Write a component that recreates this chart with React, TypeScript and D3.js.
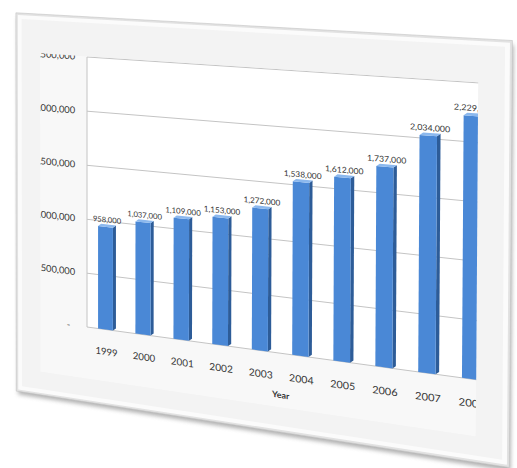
import React from "react";
import * as d3 from "d3";

const years = ["1999", "2000", "2001", "2002", "2003", "2004", "2005", "2006", "2007", "2008"];
const values = [958000, 1037000, 1109000, 1153000, 1272000, 1538000, 1612000, 1737000, 2034000, 2229000];
const tickValues = [0, 500000, 1000000, 1500000, 2000000, 2500000];
const tickLabels = ["-", "500,000", "1,000,000", "1,500,000", "2,000,000", "2,500,000"];
const axisTitle = "Year";

// flat (un-warped) plot size
const PW = 360;
const PH = 270;
// where the flat plot corners land on the page (perspective view)
const SRC: [number, number][] = [[0, 0], [PW, 0], [PW, PH], [0, PH]];
const DST: [number, number][] = [[87, 57], [480, 83], [478, 380], [87, 327]];

function homography(src: [number, number][], dst: [number, number][]) {
  const A: number[][] = [];
  const b: number[] = [];
  for (let i = 0; i < 4; i++) {
    const [x, y] = src[i];
    const [X, Y] = dst[i];
    A.push([x, y, 1, 0, 0, 0, -X * x, -X * y]);
    b.push(X);
    A.push([0, 0, 0, x, y, 1, -Y * x, -Y * y]);
    b.push(Y);
  }
  const n = 8;
  for (let c = 0; c < n; c++) {
    let p = c;
    for (let r = c + 1; r < n; r++) if (Math.abs(A[r][c]) > Math.abs(A[p][c])) p = r;
    [A[c], A[p]] = [A[p], A[c]];
    [b[c], b[p]] = [b[p], b[c]];
    for (let r = 0; r < n; r++) {
      if (r === c) continue;
      const f = A[r][c] / A[c][c];
      for (let k = c; k < n; k++) A[r][k] -= f * A[c][k];
      b[r] -= f * b[c];
    }
  }
  return b.map((v, i) => v / A[i][i]);
}

const H = homography(SRC, DST);
const P = (x: number, y: number): [number, number] => {
  const w = H[6] * x + H[7] * y + 1;
  return [(H[0] * x + H[1] * y + H[2]) / w, (H[3] * x + H[4] * y + H[5]) / w];
};
const poly = (pts: [number, number][]) => pts.map(([x, y]) => P(x, y).map((v) => v.toFixed(2)).join(",")).join(" ");
const rectPts = (x0: number, y0: number, x1: number, y1: number): [number, number][] => [
  [x0, y0], [x1, y0], [x1, y1], [x0, y1],
];
const tf = (x: number, y: number) => {
  const e = 0.5;
  const p = P(x, y);
  const px = P(x + e, y);
  const py = P(x, y + e);
  return `matrix(${(px[0] - p[0]) / e},${(px[1] - p[1]) / e},${(py[0] - p[0]) / e},${(py[1] - p[1]) / e},${p[0]},${p[1]})`;
};

const yScale = d3.scaleLinear().domain([0, 2500000]).range([PH, 0]);
const xScale = d3.scaleBand<string>().domain(years).range([0, 372.6]).paddingInner(0.6).paddingOuter(0.3);
const fmt = d3.format(",");

// card + chart-image extents (flat coords)
const CARD = { x0: -73, y0: -40, x1: 386.5, y1: 345.5 };
const CLIP = { x0: -48, y0: -0.6, x1: 358.5, y1: 322 };
const DEPTH_X = 3;
const DEPTH_Y = 2.5;

export default function App() {
  const textColor = "#363636";
  const font = "Lato, 'Open Sans', sans-serif";
  return (
    <svg
      width={517}
      height={468}
      style={{ position: "absolute", left: 0, top: 0, background: "#ffffff" }}
    >
      <defs>
        <filter id="shadowBlur" x="-10%" y="-10%" width="120%" height="120%">
          <feGaussianBlur stdDeviation="2.2" />
        </filter>
        <clipPath id="chartClip">
          <polygon points={poly(rectPts(CLIP.x0, CLIP.y0, CLIP.x1, CLIP.y1))} />
        </clipPath>
      </defs>
      {/* card shadow */}
      <polygon
        points={poly(rectPts(CARD.x0 + 2, CARD.y0 + 4, CARD.x1 + 1, CARD.y1 + 3))}
        fill="#7a7a7a"
        opacity={0.6}
        filter="url(#shadowBlur)"
      />
      {/* card with bevel */}
      <polygon points={poly(rectPts(CARD.x0, CARD.y0, CARD.x1, CARD.y1))} fill="#e2e2e2" stroke="#c4c4c4" strokeWidth={0.6} />
      <polygon points={poly(rectPts(CARD.x0 + 2, CARD.y0 + 2, CARD.x1 - 2, CARD.y1 - 2))} fill="#fbfbfb" />
      <polygon points={poly(rectPts(CARD.x0 + 6, CARD.y0 + 6, CARD.x1 - 6, CARD.y1 - 6))} fill="#f3f3f3" />

      <g clipPath="url(#chartClip)">
        <polygon points={poly(rectPts(CLIP.x0, CLIP.y0, CLIP.x1, CLIP.y1))} fill="#f8f8f8" />
        <polygon points={poly(rectPts(0, 0, PW, PH))} fill="#ffffff" />
        {/* gridlines */}
        {tickValues.map((t) => {
          const a = P(0, yScale(t));
          const b = P(PW, yScale(t));
          return <line key={"g" + t} x1={a[0]} y1={a[1]} x2={b[0]} y2={b[1]} stroke="#c4c4c4" strokeWidth={1} />;
        })}
        {(() => {
          const a = P(0, 0);
          const b = P(0, PH);
          return <line x1={a[0]} y1={a[1]} x2={b[0]} y2={b[1]} stroke="#c4c4c4" strokeWidth={1} />;
        })()}
        {/* axis labels */}
        {tickValues.map((t, i) => (
          <text
            key={"t" + t}
            transform={tf(t === 0 ? -17 : -12, yScale(t) + 3.3)}
            textAnchor="end"
            fontSize={9.5}
            fontFamily={font}
            fill={textColor}
          >
            {tickLabels[i]}
          </text>
        ))}
        {/* bars */}
        {years.map((yr, i) => {
          const x0 = xScale(yr)!;
          const x1 = x0 + xScale.bandwidth();
          const top = yScale(values[i]) + 1;
          const base = PH;
          return (
            <g key={"b" + yr}>
              <polygon
                points={poly([[x1, top], [x1 + DEPTH_X, top - DEPTH_Y], [x1 + DEPTH_X, base - DEPTH_Y], [x1, base]])}
                fill="#2d5c98"
              />
              <polygon points={poly(rectPts(x0, top, x1, base))} fill="#4a88d6" />
              <polygon
                points={poly([[x0, top], [x1, top], [x1 + DEPTH_X, top - DEPTH_Y], [x0 + DEPTH_X, top - DEPTH_Y]])}
                fill="#8bb8ee"
              />
            </g>
          );
        })}
        {/* data labels */}
        {years.map((yr, i) => (
          <text
            key={"d" + yr}
            transform={tf(xScale(yr)! + xScale.bandwidth() / 2 + 1.5, yScale(values[i]) - 3.5)}
            textAnchor="middle"
            fontSize={7.6}
            fontFamily={font}
            fill={textColor}
          >
            {fmt(values[i])}
          </text>
        ))}
        {/* category labels */}
        {years.map((yr) => (
          <text
            key={"c" + yr}
            transform={tf(xScale(yr)! + xScale.bandwidth() / 2 + 1, PH + 25.5)}
            textAnchor="middle"
            fontSize={9.6}
            fontFamily={font}
            fill={textColor}
          >
            {yr}
          </text>
        ))}
        <text
          transform={tf(187, 313)}
          textAnchor="middle"
          fontSize={8.2}
          fontWeight="bold"
          fontFamily={font}
          fill={textColor}
        >
          {axisTitle}
        </text>
      </g>
    </svg>
  );
}
